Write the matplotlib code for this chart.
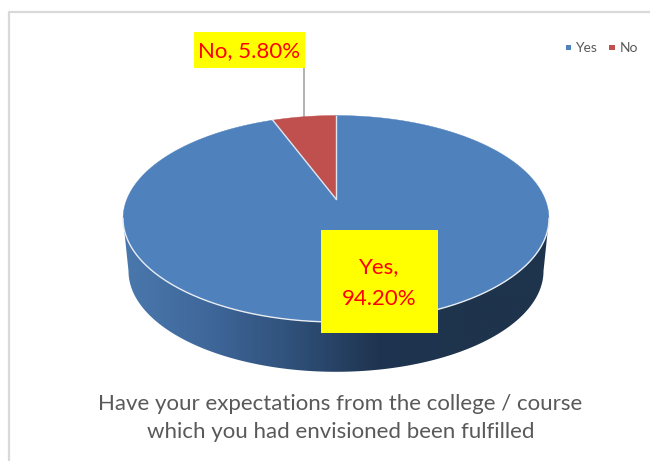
import numpy as np
import matplotlib
matplotlib.use("Agg")
import matplotlib.pyplot as plt
from matplotlib.patches import Polygon, Rectangle
from matplotlib.colors import LinearSegmentedColormap

categories = ["Yes", "No"]
values = [94.20, 5.80]
colors = ["#4f81bd", "#c0504d"]
label_texts = ["Yes,\n94.20%", "No, 5.80%"]
title = "Have your expectations from the college / course\nwhich you had envisioned been fulfilled"

W, H = 650, 461
APEX = (336, 199)
FONT = "Lato"


def project(theta):
    # circle -> tilted disc, theta clockwise from 12 o'clock
    u, v = np.sin(theta), np.cos(theta)
    d = 1 + 0.191 * v
    return APEX[0] + 209 * u / d, APEX[1] - 99.4 * v / d


fig = plt.figure(figsize=(W / 100, H / 100), dpi=100)
ax = fig.add_axes([0, 0, 1, 1])
ax.set_xlim(0, W)
ax.set_ylim(H, 0)
ax.axis("off")

# chart frame, only left and top are in the crop
ax.plot([9, 9, W], [H, 12, 12], color="#d9d9d9", lw=1.6)

# side of the disc with a left to right gradient
s = np.linspace(0, np.pi, 200)
rim = np.c_[336 + 213 * np.cos(s), 218.5 + 103.5 * np.sin(s)]
low = np.c_[336 + 207.5 * np.cos(s), 271 + 100.8 * np.sin(s)]
side = Polygon(np.r_[rim, low[::-1]], closed=True, transform=ax.transData, fc="none", ec="none")
ax.add_patch(side)
side_cmap = LinearSegmentedColormap.from_list(
    "side", ["#4a78ad", "#3f679a", "#2f5079", "#1f3450", "#1e334c", "#1e334c"])
grad = ax.imshow(np.linspace(0, 1, 256)[None, :], extent=[123, 549, 380, 210],
                 cmap=side_cmap, aspect="auto", zorder=1)
grad.set_clip_path(side)
ax.set_xlim(0, W)
ax.set_ylim(H, 0)

# top of the disc, drawn from the values
start = 0.0
angles = []
for v in values[::-1]:
    angles.append((start, start + 2 * np.pi * v / sum(values)))
    start = angles[-1][1]
for (a0, a1), c in zip(angles, colors[::-1]):
    tt = np.linspace(-a1, -a0, 300)
    px, py = project(tt)
    ax.add_patch(Polygon(np.r_[[APEX], np.c_[px, py]], closed=True, fc=c, ec=c, lw=0.3, zorder=2))

# slice separators and the pale front rim
for a in [angles[0][0], angles[0][1]]:
    ex, ey = project(-a)
    ax.plot([APEX[0], ex], [APEX[1], ey], color="#dfe6ef", lw=1.0, zorder=3)
ax.plot(rim[:, 0], rim[:, 1], color="#e8edf3", lw=1.0, zorder=3)

# yes label
ax.add_patch(Rectangle((321, 230), 117, 103, fc="#ffff00", ec="none", zorder=4))
ax.text(379.5, 283, label_texts[0], color="#ff0000", fontsize=16, ha="center", va="center",
        family=FONT, linespacing=1.7, zorder=5)

# no label and its leader
ax.plot([303.5, 303.5], [67, 117], color="#a6a6a6", lw=1.2, zorder=1.5)
ax.add_patch(Rectangle((194, 32), 111, 36, fc="#ffff00", ec="none", zorder=4))
ax.text(249.5, 51, label_texts[1], color="#ff0000", fontsize=16, ha="center", va="center",
        family=FONT, zorder=5)

# legend
for x, c, name, tx in zip([565.5, 609], colors, categories, [575.5, 620]):
    ax.add_patch(Rectangle((x, 45), 5.5, 5.5, fc=c, ec="none"))
    ax.text(tx, 47.5, name, color="#595959", fontsize=10, va="center", ha="left", family=FONT)

ax.text(340.5, 417.5, title, color="#595959", fontsize=16, ha="center", va="center",
        family=FONT, linespacing=1.5)

fig.savefig("out.png", dpi=100)
